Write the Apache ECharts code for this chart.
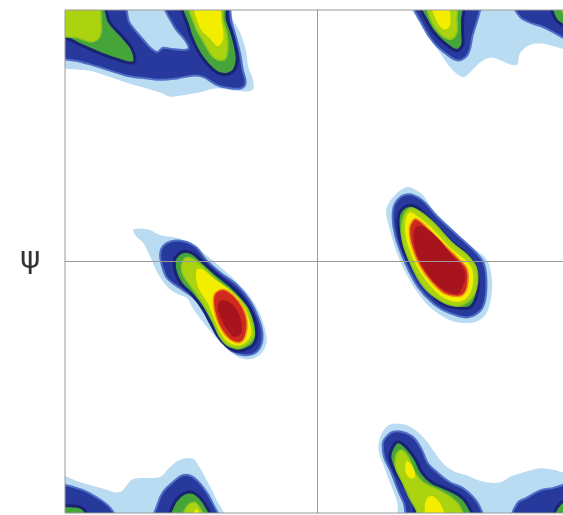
<!DOCTYPE html>
<html>
<head>
<meta charset="utf-8">
<script src="https://cdn.jsdelivr.net/npm/echarts@6/dist/echarts.min.js"></script>
<style>
  html, body { margin: 0; padding: 0; background: #fff; }
  #chart { width: 563px; height: 515px; }
</style>
</head>
<body>
<div id="chart"></div>
<script>
// contour outlines, [phi, psi] in degrees (values past +-180 are just outside the frame)
// top left (beta region, wraps to bottom left)
const TL_LIGHTBLUE = [[-185,185],[-185,142],[-160,136],[-136,128],[-112,121],[-105,118],[-96,119],[-84,121],[-71,124],[-57,122],[-46,123],[-46,131],[-49,139],[-51,152],[-55,164],[-60,173],[-64,185]];
const TL_BLUE = [[-185,185],[-185,148],[-169,143],[-155,139],[-136,133],[-121,131],[-112,130],[-100,131],[-89,133],[-81,132],[-71,126],[-62,124],[-54,124],[-51,128],[-53,137],[-55,149],[-58,161],[-61,171],[-65,185],[-108,185],[-102,168],[-94,158],[-92,152],[-103,152],[-110,153],[-114,150],[-119,153],[-126,161],[-134,171],[-139,185]];
const TL_GREEN_A = [[-185,185],[-154,185],[-148,171],[-139,161],[-132,152],[-130,144],[-132,142],[-141,144],[-155,149],[-169,155],[-179,160],[-185,160]];
const TL_LGREEN_A = [[-185,185],[-157,185],[-154,171],[-155,161],[-161,157],[-171,160],[-185,163]];
const TL_GREEN_B = [[-96,185],[-92,168],[-89,159],[-84,149],[-78,141],[-71,135],[-64,134],[-59,137],[-57,146],[-60,161],[-64,173],[-66,185]];
const TL_LGREEN_B = [[-91,185],[-87,168],[-81,157],[-74,146],[-67,144],[-64,149],[-64,161],[-67,173],[-69,185]];
const TL_YELLOW = [[-87,185],[-84,168],[-76,159],[-71,154],[-67,159],[-68,171],[-71,185]];

// top right
const TR_LIGHTBLUE = [[69,185],[76,166],[86,152],[95,139],[104,132],[109,135],[116,142],[124,146],[131,144],[138,141],[143,141],[145,149],[152,155],[161,156],[169,154],[176,152],[185,150],[185,185]];
const TR_BLUE_A = [[70,185],[76,168],[84,156],[93,148],[100,144],[106,146],[109,151],[111,161],[114,171],[116,178],[117,185]];
const TR_GREEN_A = [[74,185],[79,171],[86,161],[94,154],[100,151],[104,155],[104,164],[104,173],[104,185]];
const TR_LGREEN_A = [[79,185],[82,171],[90,161],[96,159],[100,164],[100,173],[99,185]];
const TR_YELLOW = [[82,185],[86,171],[91,166],[95,169],[95,178],[94,185]];
const TR_BLUE_B = [[141,185],[145,175],[152,171],[161,168],[169,164],[176,160],[185,157],[185,185]];
const TR_GREEN_B = [[168,185],[170,174],[176,169],[185,167],[185,185]];
const TR_LGREEN_B = [[174,185],[177,176],[185,173],[185,185]];

// middle left (alpha helix)
const ML_LIGHTBLUE = [[-131,23],[-121,23],[-112,19],[-100,17],[-91,13],[-81,6],[-69,-4],[-57,-15],[-48,-25],[-41,-37],[-37,-49],[-36,-58],[-40,-66],[-48,-70],[-57,-68],[-67,-60],[-76,-50],[-84,-40],[-89,-33],[-93,-26],[-100,-23],[-107,-18],[-114,-8],[-119,3],[-124,13],[-130,19]];
const ML_BLUE = [[-112,6],[-109,12],[-101,15],[-93,14],[-86,10],[-79,1],[-69,-8],[-57,-17],[-48,-28],[-42,-40],[-39,-51],[-40,-60],[-45,-66],[-53,-67],[-61,-64],[-68,-57],[-74,-47],[-80,-37],[-87,-27],[-98,-19],[-107,-12],[-111,-2]];
const ML_GREEN = [[-101,3],[-96,7],[-89,6],[-81,-1],[-71,-10],[-60,-19],[-51,-29],[-45,-40],[-43,-51],[-45,-59],[-51,-63],[-58,-64],[-65,-60],[-71,-53],[-76,-44],[-82,-33],[-89,-24],[-97,-16],[-101,-8],[-102,-1]];
const ML_LGREEN = [[-96,0],[-93,3],[-87,1],[-79,-6],[-69,-15],[-59,-23],[-50,-33],[-46,-44],[-45,-53],[-49,-59],[-56,-62],[-64,-60],[-70,-53],[-74,-44],[-80,-33],[-88,-21],[-95,-11],[-97,-5]];
const ML_YELLOW = [[-86,-6],[-81,-6],[-74,-12],[-64,-19],[-55,-28],[-49,-40],[-47,-51],[-50,-57],[-56,-60],[-63,-58],[-69,-51],[-73,-42],[-78,-30],[-85,-18]];
const ML_RED = [[-73,-23],[-67,-20],[-60,-24],[-53,-33],[-50,-43],[-51,-53],[-55,-58],[-62,-56],[-68,-49],[-72,-40],[-74,-30]];
const ML_DARKRED = [[-69,-28],[-63,-29],[-57,-35],[-54,-43],[-54,-51],[-59,-54],[-64,-49],[-69,-40],[-71,-33]];

// middle right (left-handed helix)
const MR_LIGHTBLUE = [[63,53],[50,39],[52,23],[59,1],[69,-18],[81,-33],[95,-42],[107,-44],[116,-42],[122,-35],[125,-20],[124,-6],[120,3],[111,10],[97,23],[83,37],[74,49]];
const MR_BLUE = [[64,48],[56,42],[54,32],[56,18],[63,-1],[72,-18],[83,-30],[95,-37],[107,-40],[116,-36],[120,-28],[121,-13],[119,-1],[113,7],[100,19],[86,32],[75,44]];
const MR_GREEN = [[65,40],[59,35],[58,25],[61,10],[69,-6],[79,-20],[89,-30],[100,-33],[109,-33],[114,-25],[115,-13],[113,-3],[107,5],[95,15],[81,30],[71,39]];
const MR_LGREEN = [[66,38],[61,30],[61,15],[67,-2],[76,-18],[88,-28],[100,-32],[109,-28],[114,-19],[114,-5],[108,4],[97,13],[83,28],[73,36]];
const MR_YELLOW = [[66,35],[63,28],[64,15],[70,-1],[79,-15],[89,-25],[100,-29],[107,-26],[111,-18],[111,-6],[106,1],[95,10],[81,25],[71,33]];
const MR_RED = [[69,30],[66,23],[68,10],[74,-4],[82,-15],[91,-23],[101,-25],[106,-22],[108,-13],[107,-5],[102,1],[91,12],[79,24],[72,30]];
const MR_DARKRED = [[71,25],[69,18],[71,6],[77,-6],[86,-17],[94,-22],[101,-23],[104,-18],[106,-11],[104,-4],[96,5],[86,17],[76,25]];

// bottom left
const BL_LIGHTBLUE = [[-185,-154],[-169,-158],[-155,-162],[-141,-165],[-132,-156],[-124,-155],[-112,-154],[-105,-147],[-98,-142],[-89,-141],[-84,-147],[-78,-158],[-73,-168],[-67,-185],[-185,-185]];
const BL_BLUE_A = [[-185,-161],[-169,-163],[-157,-169],[-148,-176],[-144,-185],[-185,-185]];
const BL_GREEN_A = [[-185,-176],[-174,-175],[-167,-177],[-164,-185],[-185,-185]];
const BL_BLUE_B = [[-116,-185],[-114,-174],[-110,-165],[-103,-158],[-96,-153],[-89,-154],[-81,-162],[-75,-172],[-71,-185]];
const BL_GREEN_B = [[-103,-175],[-98,-168],[-92,-165],[-87,-166],[-81,-172],[-76,-185],[-105,-185]];
const BL_LGREEN = [[-96,-185],[-92,-174],[-86,-173],[-81,-185]];
const BL_YELLOW = [[-89,-185],[-86,-177],[-83,-185]];

// bottom right
const BR_LIGHTBLUE = [[61,-185],[57,-171],[52,-158],[48,-147],[44,-135],[45,-126],[50,-118],[57,-116],[66,-118],[76,-126],[83,-135],[88,-142],[93,-147],[100,-151],[107,-153],[114,-156],[121,-158],[131,-158],[138,-154],[147,-151],[159,-148],[169,-149],[176,-151],[185,-151],[185,-185]];
const BR_BLUE_A = [[49,-126],[54,-122],[61,-122],[69,-126],[75,-135],[79,-144],[86,-151],[95,-158],[104,-162],[111,-168],[116,-175],[118,-185],[66,-185],[62,-173],[58,-164],[53,-151],[48,-140],[47,-130]];
const BR_GREEN_A = [[54,-133],[58,-129],[64,-133],[70,-141],[75,-151],[82,-158],[91,-162],[101,-167],[107,-173],[111,-185],[72,-185],[69,-173],[63,-162],[56,-151],[52,-140]];
const BR_LGREEN = [[57,-137],[61,-135],[66,-141],[70,-151],[76,-158],[86,-163],[95,-168],[102,-175],[104,-185],[74,-185],[71,-178],[66,-169],[61,-158],[56,-147]];
const BR_YELLOW_A = [[64,-143],[68,-146],[70,-154],[66,-155],[63,-149]];
const BR_YELLOW_B = [[79,-169],[83,-168],[89,-175],[91,-185],[79,-185],[77,-175]];
const BR_BLUE_B = [[140,-185],[143,-173],[150,-169],[159,-164],[169,-162],[176,-160],[185,-159],[185,-185]];
const BR_GREEN_B = [[169,-185],[174,-173],[185,-171],[185,-185]];

// contour levels, lowest first
const levels = [
  { polys: [TL_LIGHTBLUE, TR_LIGHTBLUE, ML_LIGHTBLUE, MR_LIGHTBLUE, BL_LIGHTBLUE, BR_LIGHTBLUE],
    fill: "#badcf3" },
  { polys: [TL_BLUE, TR_BLUE_A, TR_BLUE_B, ML_BLUE, MR_BLUE, BL_BLUE_A, BL_BLUE_B, BR_BLUE_A, BR_BLUE_B],
    fill: "#27399c", stroke: "#5070c8", width: 2 },
  { polys: [TL_GREEN_A, TL_GREEN_B, TR_GREEN_A, TR_GREEN_B, ML_GREEN, MR_GREEN, BL_GREEN_A, BL_GREEN_B, BR_GREEN_A, BR_GREEN_B],
    fill: "#45a43a", stroke: "#1a2274", width: 3 },
  { polys: [TL_LGREEN_A, TL_LGREEN_B, TR_LGREEN_A, TR_LGREEN_B, ML_LGREEN, MR_LGREEN, BL_LGREEN, BR_LGREEN],
    fill: "#acd30f", stroke: "#86c424", width: 1.5 },
  { polys: [TL_YELLOW, TR_YELLOW, ML_YELLOW, MR_YELLOW, BL_YELLOW, BR_YELLOW_A, BR_YELLOW_B],
    fill: "#f3ed00" },
  { polys: [ML_RED, MR_RED],
    fill: "#cf2a1e", stroke: "#f0921a", width: 1.5 },
  { polys: [ML_DARKRED, MR_DARKRED],
    fill: "#a8141d" }
];

const chart = echarts.init(document.getElementById("chart"));

const series = levels.map((lv) => ({
  type: "custom",
  coordinateSystem: "cartesian2d",
  clip: true,
  silent: true,
  data: lv.polys.map((p, i) => [i, 0]),
  renderItem: (params, api) => {
    const pts = lv.polys[params.dataIndex].map((pt) => api.coord(pt));
    return {
      type: "polygon",
      shape: { points: pts, smooth: 0.35 },
      style: {
        fill: lv.fill,
        stroke: lv.stroke || null,
        lineWidth: lv.width || 0
      }
    };
  }
}));

const axisCommon = {
  type: "value",
  min: -180,
  max: 180,
  z: 10,
  axisLine: { show: true, onZero: true, lineStyle: { color: "#9a9a9a", width: 1 } },
  axisTick: { show: false },
  axisLabel: { show: false },
  splitLine: { show: false }
};

chart.setOption({
  animation: false,
  title: {
    text: "ψ",
    left: 20,
    top: 244,
    padding: 0,
    textStyle: { fontFamily: "DejaVu Sans", fontSize: 31, fontWeight: "normal", color: "#333" }
  },
  grid: {
    left: 65,
    top: 10,
    width: 504,
    height: 503,
    outerBoundsMode: "none",
    containLabel: false,
    show: true,
    z: 10,
    borderColor: "#9a9a9a",
    borderWidth: 1,
    backgroundColor: "transparent"
  },
  xAxis: axisCommon,
  yAxis: axisCommon,
  series: series
});
</script>
</body>
</html>
